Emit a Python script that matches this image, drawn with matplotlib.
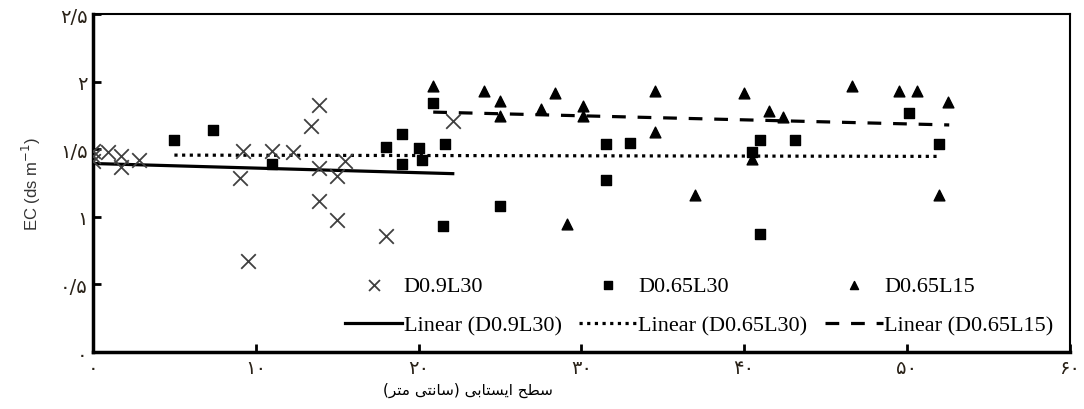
import matplotlib
matplotlib.use('Agg')
import matplotlib.pyplot as plt
import numpy as np

# D0.9L30 (crosses)
x_d09l30 = [0, 0, 0, 0.9, 1.7, 1.7, 2.8, 9.2, 9.0, 9.5, 11.0, 12.3, 13.4, 13.9, 13.9, 13.9, 15.0, 15.5, 15.0, 18.0, 22.1]
y_d09l30 = [1.49, 1.45, 1.41, 1.48, 1.45, 1.37, 1.42, 1.49, 1.29, 0.67, 1.49, 1.48, 1.67, 1.83, 1.36, 1.12, 1.30, 1.41, 0.98, 0.86, 1.71]

# D0.65L30 (squares)
x_d065l30 = [5.0, 7.4, 11.0, 18.0, 19.0, 19.0, 20.0, 20.2, 20.9, 21.6, 21.5, 25.0, 31.5, 31.5, 33.0, 40.5, 41.0, 41.0, 43.1, 50.1, 52.0]
y_d065l30 = [1.57, 1.64, 1.39, 1.52, 1.61, 1.39, 1.51, 1.42, 1.84, 1.54, 0.93, 1.08, 1.54, 1.27, 1.55, 1.48, 1.57, 0.87, 1.57, 1.77, 1.54]

# D0.65L15 (triangles)
x_d065l15 = [20.9, 24.0, 25.0, 25.0, 27.5, 28.4, 29.1, 30.1, 30.1, 34.5, 34.5, 37.0, 40.0, 40.5, 41.5, 42.4, 46.6, 49.5, 50.6, 52.0, 52.5]
y_d065l15 = [1.97, 1.93, 1.86, 1.75, 1.80, 1.92, 0.95, 1.82, 1.75, 1.93, 1.63, 1.16, 1.92, 1.43, 1.78, 1.74, 1.97, 1.93, 1.93, 1.16, 1.85]

# linear trend lines (slope, intercept, x range)
trend_slope = [-0.0034, -0.0002, -0.0030]
trend_intercept = [1.395, 1.458, 1.838]
trend_xmin = [0, 5.0, 20.9]
trend_xmax = [22.1, 52.0, 52.6]

series_names = ['D0.9L30', 'D0.65L30', 'D0.65L15']

x_ticks = [0, 10, 20, 30, 40, 50, 60]
x_ticklabels = ['۰', '۱۰', '۲۰', '۳۰', '۴۰', '۵۰', '۶۰']
y_ticks = [0, 0.5, 1, 1.5, 2, 2.5]
y_ticklabels = ['۰', '۰/۵', '۱', '۱/۵', '۲', '۲/۵']

# x label "سطح ایستابی (سانتی متر)" in visual (right-to-left) order,
# using Arabic presentation forms since matplotlib does no shaping
x_label = ('(\uFEAE\uFE98\uFEE3 \uFBFD\uFE98\uFEE7\uFE8E\uFEB3) '
           '\uFBFD\uFE91\uFE8E\uFE98\uFEB4\uFBFE\uFE8D \uFEA2\uFEC4\uFEB3')

fig = plt.figure(figsize=(10.84, 4.10), dpi=100, facecolor='white')
ax = fig.add_axes([0.0858, 0.139, 0.901, 0.824])

sc1 = ax.scatter(x_d09l30, y_d09l30, marker='x', s=110, linewidths=1.3, color='#404040', zorder=3)
sc2 = ax.scatter(x_d065l30, y_d065l30, marker='s', s=55, color='black', zorder=3)
sc3 = ax.scatter(x_d065l15, y_d065l15, marker='^', s=60, color='black', zorder=3)

styles = ['-', (0, (1.0, 1.4)), (0, (4.3, 3.7))]
lines = []
for i in range(3):
    xs = np.array([trend_xmin[i], trend_xmax[i]])
    ys = trend_intercept[i] + trend_slope[i] * xs
    ln, = ax.plot(xs, ys, color='black', lw=2.3, linestyle=styles[i], zorder=2)
    lines.append(ln)

ax.set_xlim(0, 60)
ax.set_ylim(0, 2.5)
ax.set_xticks(x_ticks)
ax.set_xticklabels(x_ticklabels, fontsize=14, family=['DejaVu Sans'], color='#2a2218')
ax.set_yticks(y_ticks)
ax.set_yticklabels(y_ticklabels, fontsize=14, family=['DejaVu Sans'], color='#2a2218')
ax.tick_params(direction='in', length=6, width=2, pad=4)

for side in ['left', 'bottom']:
    ax.spines[side].set_linewidth(2.5)
for side in ['top', 'right']:
    ax.spines[side].set_linewidth(1.5)

ax.set_xlabel(x_label, fontsize=11, family=['DejaVu Sans'], va='center')
ax.xaxis.set_label_coords(0.384, -0.112)
ax.set_ylabel('EC (ds m$^{-1}$)', fontsize=12, family=['Liberation Sans'], color='#333333', labelpad=12)

handles = [sc1, lines[0], sc2, lines[1], sc3, lines[2]]
labels = [series_names[0], 'Linear (' + series_names[0] + ')',
          series_names[1], 'Linear (' + series_names[1] + ')',
          series_names[2], 'Linear (' + series_names[2] + ')']
fig.legend(handles, labels, ncol=3, loc='upper left', bbox_to_anchor=(0.318, 0.325),
           bbox_transform=fig.transFigure, frameon=False, borderpad=0, borderaxespad=0,
           prop={'family': 'Liberation Serif', 'size': 16}, handlelength=2.6,
           handletextpad=0.05, columnspacing=0.8, labelspacing=0.85, markerscale=0.75)

plt.savefig('out.png', dpi=100, facecolor='white')
plt.close()
